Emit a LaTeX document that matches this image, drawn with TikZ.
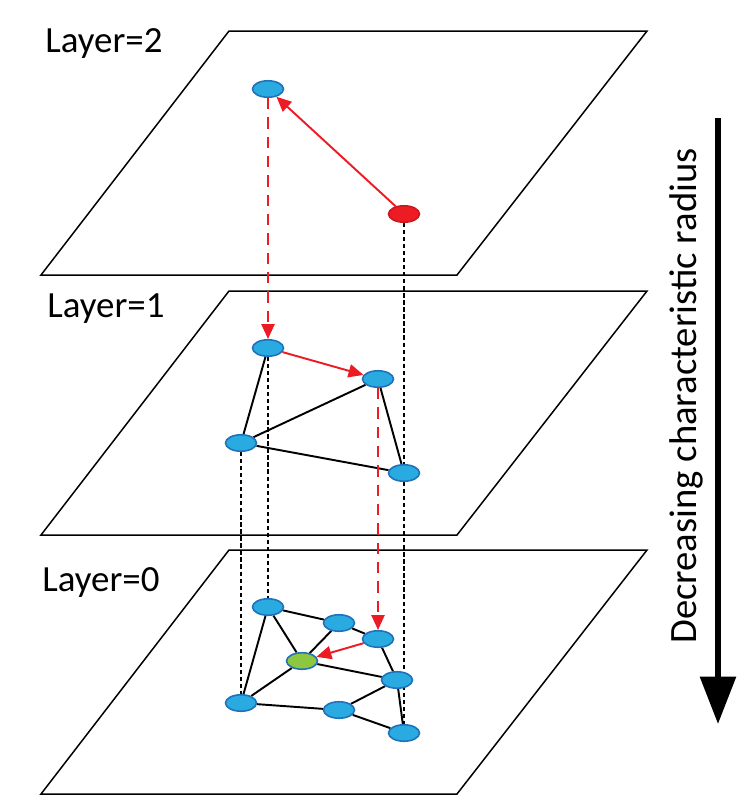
\documentclass[tikz,border=0pt]{standalone}
\usepackage{fontspec}
\setmainfont{Carlito}
\usepackage{xcolor}
\usetikzlibrary{arrows.meta}
\usetikzlibrary{shapes.geometric}
\usetikzlibrary{backgrounds}

\definecolor{nodeblue}{RGB}{41,171,226}
\definecolor{edgeblue}{RGB}{32,112,186}
\definecolor{hopred}{RGB}{237,28,36}
\definecolor{hopgreen}{RGB}{141,198,63}

\begin{document}
\begin{tikzpicture}[x=0.02cm,y=-0.02cm,
    vertex/.style={ellipse,draw=edgeblue,fill=nodeblue,line width=0.9pt,
        minimum width=0.62cm,minimum height=0.33cm,inner sep=0pt},
    entry/.style={vertex,draw=hopred!85!black,fill=hopred},
    target/.style={vertex,fill=hopgreen},
    link/.style={black,line width=1.1pt},
    hop/.style={hopred,line width=1.1pt,-{Triangle[length=8.5pt,width=7.5pt]}},
    descend/.style={hop,dash pattern=on 6.5pt off 4.5pt},
    drop/.style={black,line width=0.6pt,dash pattern=on 2.4pt off 1.6pt},
    layerlabel/.style={anchor=base west,inner sep=0pt,font=\fontsize{21}{25}\selectfont}]
\useasboundingbox (0,0) rectangle (745,802);
\def\planeheight{244}

% the three planes
\foreach \t in {31,291,550}
    \draw[line width=0.85pt,line join=miter] (229,\t) -- (647,\t) -- (457,{\t+\planeheight}) -- (41,{\t+\planeheight}) -- cycle;

\node[layerlabel] (lab2) at (45,52) {Layer=2};
\node[layerlabel] (lab1) at (47,317) {Layer=1};
\node[layerlabel] (lab0) at (42,591) {Layer=0};

% layer 2
\node[vertex] (t1) at (268,89) {};
\node[entry] (t2) at (404,214) {};

% layer 1
\node[vertex] (m1) at (268,348) {};
\node[vertex] (m2) at (378,379) {};
\node[vertex] (m3) at (241,443) {};
\node[vertex] (m4) at (404,473) {};

% layer 0
\node[vertex] (b1) at (268,607) {};
\node[vertex] (b2) at (339,623) {};
\node[vertex] (b3) at (378,639) {};
\node[target] (b4) at (302,661) {};
\node[vertex] (b5) at (397,680) {};
\node[vertex] (b6) at (241,703) {};
\node[vertex] (b7) at (339,710) {};
\node[vertex] (b8) at (404,733) {};

\begin{scope}[on background layer]
\draw[drop] (t2) -- (m4);
\draw[drop] (m4) -- (b8);
\draw[drop] (m1) -- (b1);
\draw[drop] (m3) -- (b6);
\draw[link] (m1) -- (m3);
\draw[link] (m3) -- (m2);
\draw[link] (m3) -- (m4);
\draw[link] (m2) -- (m4);
\draw[link] (b1) -- (b2);
\draw[link] (b2) -- (b3);
\draw[link] (b1) -- (b6);
\draw[link] (b1) -- (b4);
\draw[link] (b2) -- (b4);
\draw[link] (b3) -- (b5);
\draw[link] (b4) -- (b5);
\draw[link] (b4) -- (b6);
\draw[link] (b6) -- (b7);
\draw[link] (b7) -- (b5);
\draw[link] (b7) -- (b8);
\draw[link] (b5) -- (b8);
\end{scope}

% search path
\draw[hop] (t2) -- (t1);
\draw[descend] (t1) -- (m1);
\draw[hop] (m1) -- (m2);
\draw[descend] (m2) -- (b3);
\draw[hop] (b3) -- (b4);

% radius arrow
\coordinate (rtop) at (718,118);
\coordinate (rbot) at (718,724);
\draw[line width=3.2pt,-{Triangle[length=27pt,width=20pt]}] (rtop) -- (rbot);
\node[rotate=90,font=\fontsize{22}{26}\selectfont] (rlab) at (686,396) {Decreasing characteristic radius};
\end{tikzpicture}
\end{document}
